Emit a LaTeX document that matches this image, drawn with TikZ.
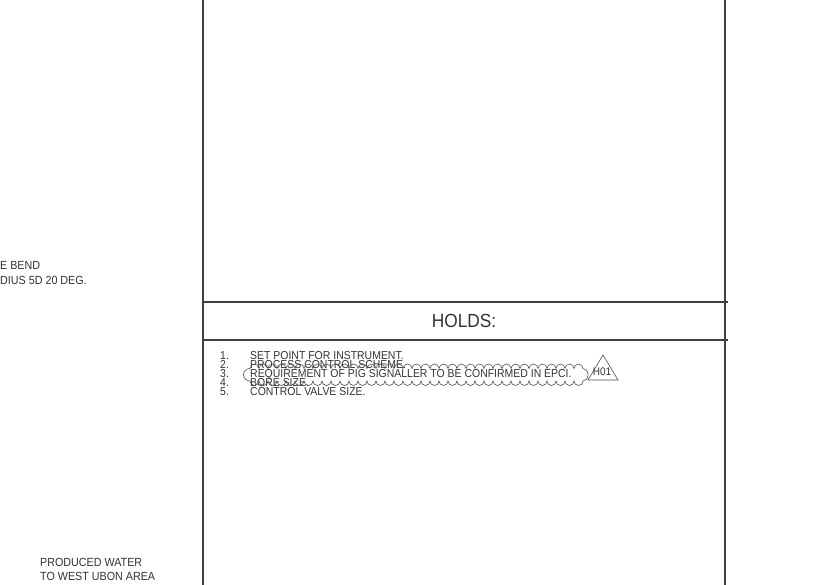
\documentclass[tikz,border=0pt]{standalone}
\usepackage{fontspec}
\setmainfont{Liberation Sans}
\newfontfamily\cadfont[FakeStretch=0.91]{Liberation Sans}

\tikzset{
  frameline/.style={draw=black!75, line width=1.1pt},
  thinline/.style={draw=black!70, line width=0.6pt},
  notetext/.style={anchor=base west, inner sep=0pt, text=black!80,
    text height=7.5pt, text depth=0pt,
    font=\cadfont\fontsize{11.5}{11.5}\selectfont},
  sidetext/.style={anchor=base west, inner sep=0pt, text=black!80, align=left,
    font=\cadfont\fontsize{11.8}{14}\selectfont}
}

\begin{document}
\begin{tikzpicture}[x=1pt, y=-1pt]
\useasboundingbox (0,0) rectangle (827,585);

% Frame corners
\coordinate (tl) at (203,0);
\coordinate (bl) at (203,585);
\coordinate (tr) at (725,0);
\coordinate (br) at (725,585);

% Vertical frame lines
\draw[frameline] (tl) -- (bl);
\draw[frameline] (tr) -- (br);

% Header band for the holds
\coordinate (h1l) at (203,302);
\coordinate (h1r) at (728,302);
\coordinate (h2l) at (203,340);
\coordinate (h2r) at (728,340);
\draw[frameline] (h1l) -- (h1r);
\draw[frameline] (h2l) -- (h2r);
\node[text=black!80, font=\cadfont\fontsize{19}{19}\selectfont] (holds) at (464,321) {HOLDS:};

% List of holds
\node[notetext] (n1) at (220,359.0) {1.};
\node[notetext] (n2) at (220,368.2) {2.};
\node[notetext] (n3) at (220,377.4) {3.};
\node[notetext] (n4) at (220,386.6) {4.};
\node[notetext] (n5) at (220,395.8) {5.};
\node[notetext] (t1) at (250,359.0) {SET POINT FOR INSTRUMENT.};
\node[notetext] (t2) at (250,368.2) {PROCESS CONTROL SCHEME.};
\node[notetext] (t3) at (250,377.4) {REQUIREMENT OF PIG SIGNALLER TO BE CONFIRMED IN EPCI.};
\node[notetext] (t4) at (250,386.6) {BORE SIZE.};
\node[notetext] (t5) at (250,395.8) {CONTROL VALVE SIZE.};

% Revision cloud round item 3
\draw[thinline] (250,368.5)
  \foreach \i in {1,...,37} { arc[start angle=180, end angle=360, radius=4.5] }
  arc[start angle=270, end angle=450, x radius=5, y radius=6.25]
  \foreach \i in {1,...,37} { arc[start angle=0, end angle=180, radius=4.5] }
  arc[start angle=90, end angle=270, x radius=6.5, y radius=6.25];

% Hold triangle
\coordinate (tri1) at (603,355);
\coordinate (tri2) at (618,380);
\coordinate (tri3) at (588,380);
\draw[thinline] (tri1) -- (tri2) -- (tri3) -- cycle;
\node[text=black!80, inner sep=0pt, font=\cadfont\fontsize{11}{11}\selectfont] (h01) at (602,372) {H01};

% Texts to the left of the frame
\node[sidetext] (bend) at (0,284) {E BEND\\DIUS 5D 20 DEG.};
\node[sidetext] (water) at (40,580) {PRODUCED WATER\\TO WEST UBON AREA};
\end{tikzpicture}
\end{document}
